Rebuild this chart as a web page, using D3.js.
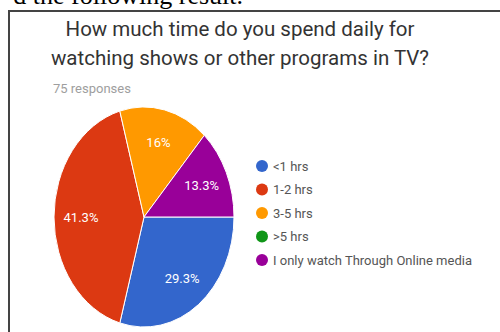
<!DOCTYPE html>
<html>
<head>
<meta charset="utf-8">
<script src="https://cdn.jsdelivr.net/npm/d3@7/dist/d3.min.js"></script>
<style>
  html, body { margin: 0; padding: 0; background: #fff; }
  svg { display: block; }
</style>
</head>
<body>
<svg id="chart" width="500" height="332"></svg>
<script>
// Survey answers and their share of the 75 responses (percent)
const categories = ["<1 hrs", "1-2 hrs", "3-5 hrs", ">5 hrs", "I only watch Through Online media"];
const percents = [29.3, 41.3, 16, 0, 13.3];
const colors = ["#3366cc", "#dc3912", "#ff9900", "#109618", "#990099"];
const titleLines = ["How much time do you spend daily for", "watching shows or other programs in TV?"];
const subtitle = "75 responses";
const captionAbove = "d the following result.";

const svg = d3.select("#chart");
const font = "Roboto, 'Noto Sans', Arial, sans-serif";

// line of the surrounding document, cut off at the top edge
svg.append("text")
  .attr("x", 243).attr("y", 4)
  .attr("text-anchor", "end")
  .attr("font-family", "'Liberation Serif', 'Times New Roman', serif")
  .attr("font-size", 26)
  .attr("fill", "#000")
  .text(captionAbove);

// frame around the chart
svg.append("rect")
  .attr("x", 9).attr("y", 11)
  .attr("width", 520).attr("height", 340)
  .attr("fill", "#fff")
  .attr("stroke", "#444").attr("stroke-width", 2);

// title
svg.append("g").selectAll("text")
  .data(titleLines).join("text")
  .attr("x", 240)
  .attr("y", (d, i) => 36 + i * 29)
  .attr("text-anchor", "middle")
  .attr("font-family", font)
  .attr("font-size", 20.5)
  .attr("fill", "#333")
  .text(d => d);

svg.append("text")
  .attr("x", 53).attr("y", 93)
  .attr("font-family", font)
  .attr("font-size", 13)
  .attr("fill", "#9e9e9e")
  .text(subtitle);

// pie (drawn as a circle, then stretched into an ellipse)
const cx = 144, cy = 217, rx = 90, ry = 110, R = 100;
const pie = d3.pie().sort(null).value(d => d)
  .startAngle(Math.PI / 2).endAngle(Math.PI / 2 + 2 * Math.PI);
const arcs = pie(percents);
const arc = d3.arc().innerRadius(0).outerRadius(R);
const labelArc = d3.arc().innerRadius(R * 0.7).outerRadius(R * 0.7);

const pieG = svg.append("g")
  .attr("transform", `translate(${cx},${cy}) scale(${rx / R},${ry / R})`);
pieG.selectAll("path")
  .data(arcs.filter(a => a.value > 0)).join("path")
  .attr("d", arc)
  .attr("fill", d => colors[d.index])
  .attr("stroke", "#fff")
  .attr("stroke-width", 1)
  .attr("vector-effect", "non-scaling-stroke");

svg.append("g").selectAll("text")
  .data(arcs.filter(a => a.value > 0)).join("text")
  .attr("x", d => cx + labelArc.centroid(d)[0] * rx / R)
  .attr("y", d => cy + labelArc.centroid(d)[1] * ry / R)
  .attr("dy", "0.35em")
  .attr("text-anchor", "middle")
  .attr("font-family", font)
  .attr("font-size", 13)
  .attr("fill", "#fff")
  .text(d => d.value + "%");

// legend
const legend = svg.append("g").attr("transform", "translate(262,166)");
const item = legend.selectAll("g")
  .data(categories).join("g")
  .attr("transform", (d, i) => `translate(0,${i * 23.5})`);
item.append("circle")
  .attr("r", 6)
  .attr("fill", (d, i) => colors[i]);
item.append("text")
  .attr("x", 11).attr("dy", "0.35em")
  .attr("font-family", font)
  .attr("font-size", 13)
  .attr("fill", "#555")
  .text(d => d);
</script>
</body>
</html>
